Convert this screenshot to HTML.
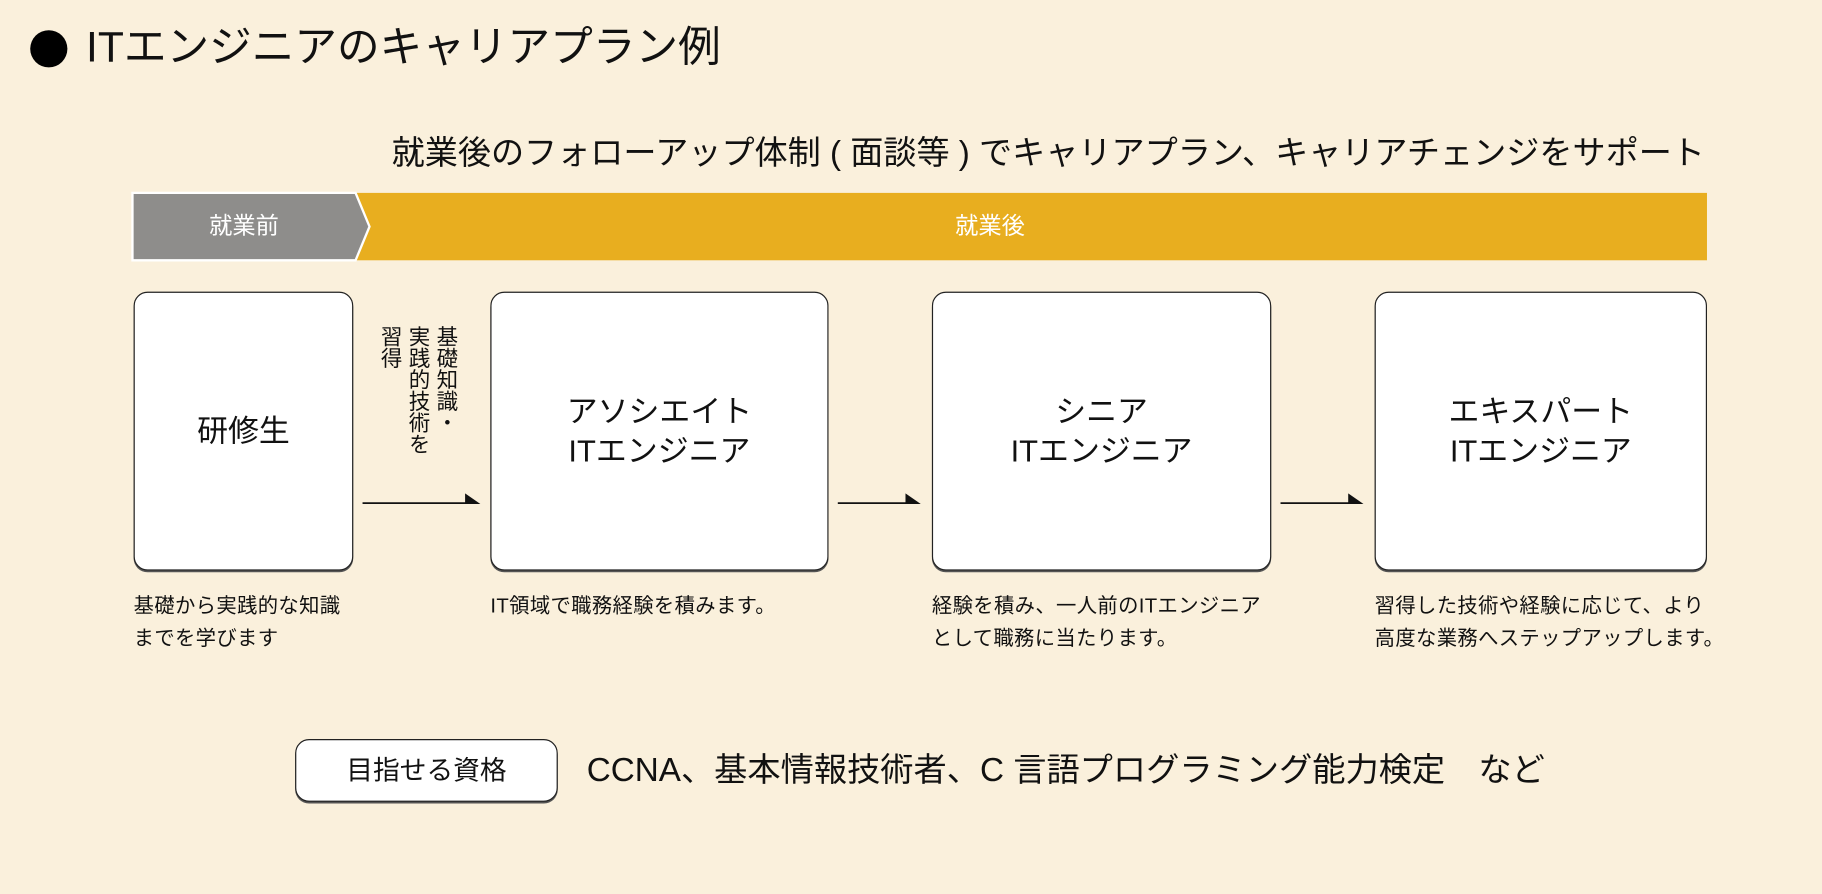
<!DOCTYPE html>
<html><head><meta charset="utf-8"><style>
html,body{margin:0;padding:0;}
body{width:1822px;height:894px;overflow:hidden;background:#faf0dc;}
#w{position:absolute;left:0;top:0;width:1568px;height:769px;transform:scale(1.162);transform-origin:0 0;font-family:"Liberation Sans","Noto Sans CJK JP",sans-serif;color:#111;}
.a{position:absolute;white-space:nowrap;}
.box{position:absolute;background:#fff;border:1.5px solid #222;border-radius:12px;box-shadow:0 1.5px 0 #555;display:flex;align-items:center;justify-content:center;text-align:center;font-size:26.6px;line-height:34px;}
.d{position:absolute;font-size:17.5px;letter-spacing:0.3px;line-height:28px;white-space:nowrap;}
</style></head><body><div id="w">
<div class="a" style="left:26px;top:26px;width:32px;height:32px;border-radius:50%;background:#000"></div>
<div class="a" style="left:74px;top:18px;font-size:36.7px;line-height:46px">ITエンジニアのキャリアプラン例</div>
<div class="a" style="left:337px;top:113px;font-size:28.5px;line-height:38px">就業後のフォローアップ体制 ( 面談等 ) でキャリアプラン、キャリアチェンジをサポート</div>
<svg class="a" style="left:0;top:0" width="1568" height="769">
<rect x="114" y="166" width="1355" height="58" fill="#e8ae1f"/>
<polygon points="114,166 306,166 318,195 306,224 114,224" fill="#8e8d8b" stroke="#fff" stroke-width="2"/>
<g stroke="#111" stroke-width="1.5" fill="#111">
<line x1="312" y1="433" x2="403" y2="433"/><polygon points="411,433 401,426 401,433"/>
<line x1="721" y1="433" x2="782" y2="433"/><polygon points="790,433 780,426 780,433"/>
<line x1="1102" y1="433" x2="1163" y2="433"/><polygon points="1171,433 1161,426 1161,433"/>
</g>
</svg>
<div class="a" style="left:114px;top:181px;width:192px;text-align:center;color:#fff;font-size:20px;line-height:28px">就業前</div>
<div class="a" style="left:318px;top:181px;width:1068px;text-align:center;color:#fff;font-size:20px;line-height:28px">就業後</div>
<div class="box" style="left:115px;top:251px;width:187px;height:238px">研修生</div>
<div class="box" style="left:422px;top:251px;width:289px;height:238px">アソシエイト<br>ITエンジニア</div>
<div class="box" style="left:802px;top:251px;width:290px;height:238px">シニア<br>ITエンジニア</div>
<div class="box" style="left:1183px;top:251px;width:284px;height:238px">エキスパート<br>ITエンジニア</div>
<div class="a" style="left:324px;top:280px;writing-mode:vertical-rl;font-size:18.5px;line-height:24px;height:150px;white-space:normal">基礎知識・<br>実践的技術を<br>習得</div>
<div class="d" style="left:115px;top:507px">基礎から実践的な知識<br>までを学びます</div>
<div class="d" style="left:422px;top:507px">IT領域で職務経験を積みます。</div>
<div class="d" style="left:802px;top:507px">経験を積み、一人前のITエンジニア<br>として職務に当たります。</div>
<div class="d" style="left:1183px;top:507px">習得した技術や経験に応じて、より<br>高度な業務へステップアップします。</div>
<div class="box" style="left:254px;top:636px;width:224px;height:52px;font-size:23px">目指せる資格</div>
<div class="a" style="left:505px;top:644px;font-size:28.6px;line-height:38px">CCNA、基本情報技術者、C 言語プログラミング能力検定　など</div>
</div></body></html>
